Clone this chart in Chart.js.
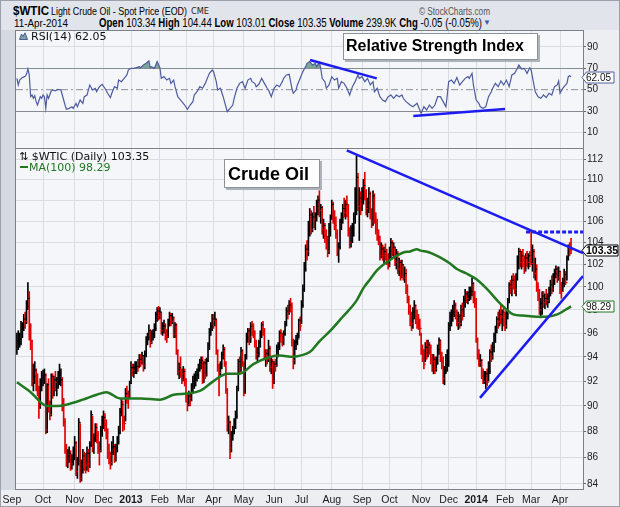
<!DOCTYPE html>
<html>
<head>
<meta charset="utf-8">
<script src="https://cdn.jsdelivr.net/npm/chart.js@4.4.1/dist/chart.umd.min.js"></script>
<style>
html, body { margin: 0; padding: 0; }
body { width: 620px; height: 507px; position: relative; overflow: hidden; background: #e1e4ea; font-family: "Liberation Sans", Arial, sans-serif; }
canvas { position: absolute; left: 0; }
#rsi { top: 30px; }
#price { top: 149px; }
.t { position: absolute; white-space: nowrap; transform-origin: 0 0; z-index: 5; }
.dv { font-family: "DejaVu Sans", sans-serif; font-size: 11px; line-height: 11px; }
.box { position: absolute; background: #fff; border: 1px solid #8e9198; box-shadow: 2px 2px 0 #aeb2b9; z-index: 5; box-sizing: border-box; }
.box span { position: absolute; font-weight: bold; color: #000; white-space: nowrap; }
#frame { position: absolute; left: 0; top: 0; width: 618px; height: 505px; border: 1px solid #9ba0a9; z-index: 9; pointer-events: none; }
</style>
</head>
<body>
<canvas id="rsi" width="620" height="119"></canvas>
<canvas id="price" width="620" height="358"></canvas>

<div class="t" style="left:13px;top:3.5px;font-size:13.5px;line-height:13.5px;font-weight:bold" data-w="36">$WTIC</div>
<div class="t" style="left:51px;top:5.5px;font-size:11.5px;line-height:11.5px" data-w="136">Light Crude Oil - Spot Price (EOD)</div>
<div class="t" style="left:191px;top:7.4px;font-family:'DejaVu Sans';font-size:9px;line-height:9px;color:#222" data-w="18">CME</div>
<div class="t" style="left:419px;top:6.5px;font-size:10px;line-height:10px;color:#555" data-w="71">&copy; StockCharts.com</div>
<div class="t" style="left:14px;top:17.5px;font-size:11.5px;line-height:11.5px" data-w="54">11-Apr-2014</div>
<div class="t" style="left:99px;top:17.1px;font-size:12px;line-height:12px" data-w="383"><b>Open</b> 103.34 <b>High</b> 104.44 <b>Low</b> 103.01 <b>Close</b> 103.35 <b>Volume</b> 239.9K <b>Chg</b> -0.05 (-0.05%)</div>
<div class="t" style="left:483px;top:19px;font-size:8px;line-height:8px;color:#3c5aa8">&#9660;</div>

<svg class="t" style="left:19px;top:32px" width="9" height="8"><polygon points="0.5,7.5 2.5,2 4,4.5 6,0.8 8.5,7.5" fill="#7ba597" stroke="#4e5c9e" stroke-width="1"/></svg>
<div class="t dv" style="left:31px;top:30.7px;color:#111">RSI(14) 62.05</div>
<div class="t dv" style="left:19px;top:150.7px;color:#111">&#8645; $WTIC (Daily) 103.35</div>
<div class="t" style="left:20px;top:166px;width:8px;height:2px;background:#217821"></div>
<div class="t dv" style="left:29px;top:161.7px;color:#217821">MA(100) 98.29</div>

<div class="box" style="left:343px;top:33px;width:195px;height:27px"><span style="left:2px;top:4px;font-size:16px;line-height:16px">Relative Strength Index</span></div>
<div class="box" style="left:224px;top:159px;width:96px;height:29px"><span style="left:3px;top:5px;font-size:18px;line-height:18px">Crude Oil</span></div>

<div id="frame"></div>

<script>
// month grid: bar index of first trading day of each month (first one is left of the plot)
const monthTicks = [-3.6, 19, 42, 63, 83, 104, 123, 143, 165, 187, 207, 229, 251, 271, 294, 314, 334, 355, 374, 395];
const monthLabels = ['Sep', 'Oct', 'Nov', 'Dec', '2013', 'Feb', 'Mar', 'Apr', 'May', 'Jun', 'Jul', 'Aug', 'Sep', 'Oct', 'Nov', 'Dec', '2014', 'Feb', 'Mar', 'Apr'];
const priceTicks = [84, 86, 88, 90, 92, 94, 96, 98, 100, 102, 104, 106, 108, 110, 112];
const rsiTicks = [10, 30, 50, 70, 90];
const rsiLevels = [30, 50, 70];

// daily bars Sep 2012 - Apr 2014
const lo = [
  94.2,94.6,94.8,95.0,95.6,96.2,96.4,96.8,98.0,95.4,94.6,91.6,91.2,91.8,91.2,90.8,89.0,89.8,91.2,
  91.6,91.8,87.8,87.9,89.5,88.9,89.2,90.6,90.8,91.2,90.8,91.4,91.7,91.6,89.6,88.4,86.3,85.3,85.2,85.6,85.0,85.1,85.4,
  85.8,84.6,84.4,85.4,84.1,84.2,84.8,85.0,84.8,85.0,84.9,85.2,86.8,86.4,86.3,87.2,87.1,86.3,85.4,86.4,87.6,
  88.2,88.0,87.4,85.9,85.5,85.1,85.4,86.2,85.6,85.7,86.4,87.0,87.8,89.2,88.0,88.1,88.8,90.2,89.8,90.6,
  91.8,92.4,92.3,92.6,92.6,92.8,93.1,93.2,93.4,92.8,93.0,94.0,95.0,95.4,94.8,95.1,95.4,95.6,96.2,97.0,97.1,
  97.2,95.9,95.8,96.0,95.4,95.2,95.6,96.6,96.6,96.8,95.6,95.6,94.2,92.5,92.2,92.3,91.8,92.0,91.6,
  90.3,89.6,90.0,90.0,90.4,91.0,91.4,91.6,92.0,92.2,92.8,93.0,91.8,91.9,92.2,92.4,93.6,94.6,95.8,96.2,
  96.4,96.6,94.2,92.8,90.8,92.4,93.0,93.8,93.2,91.0,88.0,87.8,85.9,86.4,87.3,87.8,88.2,89.0,91.2,92.6,92.8,93.2,
  90.8,91.0,93.8,95.2,95.0,95.2,95.8,95.6,94.8,93.8,93.6,94.0,94.8,95.6,95.8,93.8,93.2,93.4,93.6,92.8,92.6,91.4,
  91.8,92.8,93.2,94.0,94.6,95.2,94.9,95.0,95.8,96.6,97.2,97.6,97.8,94.9,93.0,93.4,94.6,95.0,95.6,96.2,
  96.8,98.2,99.6,101.4,102.4,102.8,104.6,104.8,105.0,105.4,105.2,106.0,106.6,106.4,105.8,104.8,104.4,104.0,103.4,102.7,103.0,104.6,
  106.2,105.8,105.2,104.4,102.8,102.2,103.4,105.2,105.8,106.4,106.2,106.4,104.6,103.5,103.6,104.0,104.6,105.8,106.6,107.0,104.2,106.6,
  107.0,107.6,108.0,106.6,106.4,106.8,106.2,105.4,105.6,105.8,104.8,104.2,103.8,102.4,102.6,102.4,102.1,102.4,102.0,101.6,
  101.8,102.6,102.8,102.6,101.9,101.6,101.2,101.0,100.6,100.8,100.6,100.4,99.4,98.6,97.6,96.6,96.2,96.4,97.2,96.8,96.4,96.3,95.8,
  94.2,93.6,93.0,93.6,93.8,94.0,94.2,93.4,92.8,92.6,92.6,92.8,93.4,94.2,93.6,93.0,91.8,91.7,92.6,92.8,
  93.2,96.2,96.6,97.0,97.4,97.2,96.6,96.3,96.4,96.6,97.1,97.4,98.2,98.6,98.5,98.8,98.9,99.2,98.6,98.2,
  95.2,93.8,93.2,93.2,92.2,91.8,91.8,91.4,91.6,92.0,92.6,93.6,93.8,94.4,95.2,96.0,96.4,96.6,96.8,96.2,96.6,
  96.2,96.4,97.2,98.6,99.4,99.2,99.8,99.4,99.2,100.6,101.6,101.8,101.6,101.8,101.2,101.4,101.8,101.6,101.8,
  102.0,101.4,100.8,100.6,99.6,98.8,97.6,97.3,97.6,98.2,98.1,98.4,98.2,98.6,99.2,99.4,99.6,100.2,100.8,100.4,100.6,
  99.4,99.0,99.6,100.0,100.2,100.6,102.4,102.8,103.0
];
const hi = [
  96.0,96.2,96.0,97.0,96.9,97.6,97.8,98.8,100.4,99.6,96.8,95.4,93.4,93.6,93.0,92.6,91.6,92.2,92.8,
  92.9,93.0,92.6,91.8,92.2,90.4,92.6,92.6,92.4,92.8,92.3,92.8,93.4,93.0,92.3,90.6,89.0,87.0,86.6,86.8,86.5,86.2,86.8,
  87.6,87.2,86.0,89.0,88.6,85.8,86.6,86.4,86.3,86.8,86.6,87.2,89.6,89.2,87.8,88.6,88.6,88.0,87.2,88.4,89.2,
  89.6,89.4,88.9,88.2,87.0,86.4,87.2,87.6,87.0,87.0,87.6,88.4,89.8,90.6,90.4,89.2,91.4,91.6,91.2,92.0,
  93.6,93.4,93.4,93.6,93.6,93.8,94.2,94.2,94.4,94.1,94.5,95.7,96.0,96.7,96.3,96.2,96.3,96.8,97.8,98.2,98.3,
  98.2,97.8,96.9,97.1,96.8,96.3,97.2,97.8,97.7,97.7,97.4,96.9,96.8,94.6,93.5,94.0,93.0,93.2,93.0,
  92.2,91.0,91.2,91.0,91.8,92.4,92.6,92.8,93.0,93.4,93.8,94.0,94.0,93.6,93.8,93.9,95.2,96.4,96.9,97.6,
  97.6,97.8,97.2,94.6,93.4,93.6,94.4,95.0,94.8,93.6,91.4,89.2,88.8,88.0,88.4,89.0,89.6,91.6,93.8,94.0,94.8,94.6,
  93.6,94.2,96.0,96.4,96.4,96.9,97.0,96.8,96.2,95.4,94.8,95.4,96.2,96.9,97.0,96.4,94.6,94.6,95.4,94.9,94.0,93.8,
  93.6,93.8,95.0,95.2,96.2,96.3,96.0,96.2,97.0,98.2,98.4,98.8,99.0,98.6,95.5,95.4,95.8,96.0,97.2,97.4,
  98.8,100.2,102.2,103.8,104.2,106.0,107.2,107.0,106.8,107.4,106.8,108.0,108.4,108.9,107.6,107.4,106.2,105.8,105.2,104.6,105.8,106.6,
  108.0,107.8,107.0,106.4,105.2,104.0,106.2,106.8,107.6,108.2,108.0,108.4,107.6,105.4,105.6,105.8,106.8,109.2,112.3,110.6,109.2,108.8,
  109.2,110.0,110.7,109.0,108.2,109.2,108.8,107.2,108.9,108.6,106.8,106.2,105.2,104.6,104.0,103.8,103.6,103.9,103.4,103.0,
  103.6,104.4,104.2,104.0,103.6,103.4,103.2,102.6,102.4,102.4,102.0,101.8,101.6,100.2,99.2,98.4,97.8,98.2,98.8,98.4,98.0,97.6,97.2,
  96.0,95.0,94.6,95.2,95.4,95.4,95.2,95.0,94.2,94.2,94.0,94.0,95.0,95.6,95.4,94.4,94.0,93.2,94.2,94.6,
  96.9,97.8,98.0,98.4,98.8,98.6,98.0,97.8,97.6,98.4,98.6,99.2,99.8,99.6,99.6,100.0,100.0,100.8,100.4,99.6,
  99.0,95.6,94.6,94.2,93.8,93.0,92.8,92.8,93.0,93.6,94.6,95.0,95.2,96.0,96.6,97.4,97.8,98.0,98.4,98.0,98.2,
  97.8,98.0,99.0,100.4,100.6,101.0,101.2,101.0,101.2,102.8,103.5,103.4,103.2,103.4,102.8,103.0,103.2,103.0,103.2,
  105.1,103.8,103.4,102.6,102.0,100.4,99.8,99.0,99.6,99.6,99.4,99.8,99.4,100.0,100.6,101.0,101.2,101.6,101.9,101.8,101.8,
  101.4,100.4,100.8,101.6,101.4,102.8,103.8,104.0,104.4
];
const cl = [
  95.3,95.4,95.5,96.4,96.5,97.2,97.0,98.3,99.0,96.6,95.3,92.0,92.4,92.9,91.9,91.4,90.0,91.9,92.2,
  92.5,92.5,88.1,91.7,89.9,89.3,92.4,91.3,92.1,91.9,91.9,92.1,92.1,92.1,90.1,88.7,86.7,85.7,86.1,86.3,85.5,85.7,86.2,
  87.1,84.9,85.7,88.7,84.4,85.1,86.1,85.6,85.4,86.3,85.5,86.9,89.3,86.8,87.4,88.3,87.7,86.7,86.5,88.1,88.9,
  89.1,88.5,87.9,86.3,85.9,85.6,86.8,86.8,85.9,86.7,87.2,87.9,89.5,90.1,88.7,88.6,91.0,90.9,90.8,91.8,
  93.1,92.9,93.1,93.2,93.2,93.1,93.8,93.6,94.1,93.3,94.2,95.5,95.6,96.2,95.2,95.9,95.9,96.4,97.6,97.9,97.5,
  97.8,96.2,96.6,96.6,95.8,95.7,97.0,97.5,97.0,97.3,95.9,96.7,94.5,92.8,93.1,92.6,92.1,92.8,92.1,
  90.7,90.1,90.8,90.4,91.6,92.0,92.1,92.5,92.5,93.0,93.5,93.7,92.1,93.5,92.5,93.7,94.8,96.3,96.6,97.2,
  97.1,97.2,94.5,93.3,92.7,93.4,94.2,94.6,93.5,91.3,88.7,88.7,86.7,87.7,88.0,88.8,89.2,91.4,93.6,93.0,94.5,93.5,
  91.0,94.0,95.6,96.2,95.6,96.6,96.4,96.0,95.2,94.2,94.3,95.2,96.0,96.7,96.2,94.3,94.3,93.8,94.7,93.1,93.6,92.0,
  93.4,93.3,94.8,94.8,96.0,95.8,95.4,95.9,96.7,97.9,97.8,98.4,98.2,95.4,93.7,95.2,95.3,95.5,97.1,96.6,
  98.4,99.8,101.6,103.4,103.2,105.6,106.6,105.2,106.4,106.2,106.6,107.8,108.0,107.0,107.3,105.2,105.6,104.6,104.4,103.2,105.4,106.2,
  107.6,106.2,105.6,104.8,103.4,103.6,105.9,106.4,107.2,106.8,107.6,107.4,105.0,104.0,104.2,105.4,106.4,108.8,110.2,107.4,108.2,107.6,
  108.8,109.4,108.6,107.2,107.8,108.6,106.6,106.0,108.4,106.4,105.2,104.6,104.0,102.8,103.4,102.8,103.2,102.6,102.4,102.0,
  103.2,104.0,103.4,103.6,102.2,103.0,101.6,102.2,101.0,102.0,100.8,101.2,99.6,98.9,97.8,97.4,96.8,97.8,98.4,97.2,96.8,96.6,96.4,
  94.6,94.4,93.4,94.8,94.2,95.0,94.8,93.8,93.6,93.8,93.0,93.4,94.6,95.4,94.0,93.6,92.2,92.8,93.4,94.0,
  96.6,97.4,97.6,97.8,98.4,97.6,96.9,97.4,96.8,98.0,97.6,98.8,99.4,99.0,99.2,99.4,99.6,100.3,98.8,98.6,
  95.5,94.0,93.5,93.7,92.4,92.0,92.4,92.6,91.9,92.8,94.4,94.0,94.8,95.8,96.2,97.2,97.0,97.6,97.4,97.8,97.6,
  96.6,97.6,98.8,100.2,100.0,100.6,100.4,99.8,100.8,102.6,103.2,102.2,102.8,102.4,101.6,102.6,102.2,102.8,102.4,
  102.1,103.2,101.2,101.6,100.0,99.2,98.0,98.6,99.2,98.6,99.0,98.8,99.2,99.8,100.2,99.8,100.6,101.2,101.6,100.8,101.4,
  99.7,99.6,100.3,101.1,100.4,102.6,103.6,103.4,103.35
];

// MA(100) (bar index, value)
const maIdx = [0, 10, 22, 29, 36, 48, 58, 65, 75, 90, 104, 114, 124, 133, 143, 153, 162, 172, 182, 191, 201, 206, 213, 220, 228, 237, 247, 252, 257, 262, 271, 281, 286, 291, 293, 300, 310, 315, 320, 327, 334, 342, 351, 361, 368, 378, 385, 393, 399, 403];
const maVal = [91.9, 91.1, 90.0, 90.0, 90.1, 90.5, 90.9, 91.1, 90.6, 90.6, 90.5, 90.9, 91.0, 91.2, 92.0, 92.6, 92.6, 93.4, 93.9, 94.1, 94.0, 94.1, 94.4, 95.3, 96.2, 97.4, 98.8, 99.9, 100.7, 101.5, 102.4, 103.1, 103.2, 103.4, 103.3, 103.1, 102.5, 102.1, 101.6, 101.2, 100.7, 99.8, 98.6, 97.6, 97.5, 97.4, 97.4, 97.6, 98.0, 98.29];

// RSI(14) (bar index, value)
const rsiIdx = [0,1,2,4,6,7,8,9,10,11,12,13,14,15,17,18,19,20,21,22,23,25,26,28,30,32,33,35,36,38,40,41,43,44,46,48,49,51,53,55,57,58,60,62,64,66,68,69,71,73,74,76,78,80,81,83,85,87,89,90,92,94,96,97,98,100,102,104,105,107,109,111,112,114,115,117,118,120,122,124,126,128,129,131,133,135,137,138,140,142,143,145,146,148,150,152,153,155,157,158,160,162,164,166,168,170,171,173,174,176,178,180,182,183,185,187,189,191,193,194,196,198,200,201,203,204,206,208,
  210,211,213,215,217,218,220,221,222,224,225,227,229,231,233,234,236,238,240,242,244,246,248,249,251,253,255,257,259,260,262,264,266,268,270,272,274,276,278,280,281,283,286,288,291,293,294,296,298,300,302,304,306,308,310,312,313,314,316,318,320,322,324,326,328,329,331,332,334,336,337,339,341,343,345,346,348,350,352,354,356,358,360,362,364,365,367,369,371,373,374,376,377,379,381,383,385,387,389,391,393,394,395,397,398,400,401,402,403];
const rsiVal = [60.6,54.4,59,61.3,62.5,64.4,69.4,63.8,43.4,45,41.9,44.4,38.8,35.6,43.4,41.9,45,43.4,32.5,45,41.9,48.8,49.7,48.8,50.3,49.7,45,35.6,31.6,32.5,34,32.5,37.2,34,40.3,37.2,43.4,45,54.4,49.7,51.3,48.1,52.8,55,51.3,46.6,42.5,46.6,52.8,51.3,59,57.5,60.6,63.8,68.4,70,70,70.6,71.6,70.6,73.1,74.7,76.9,70.6,71.6,70,76.3,70.6,60.6,62.2,59,60.6,55.9,59,52.8,43.4,41.9,38.8,35.6,31.6,35.6,38.8,45,48.1,52.8,51.3,55.9,59,65.3,68.4,66.9,57.5,49.7,51.3,43.4,34,29.4,32.5,35.6,41.9,51.3,55.9,57.5,51.3,59,60.6,57.5,55.9,52.8,55,60.6,55.9,51.3,49.7,43.4,51.3,54.4,52.8,57.5,60.6,63.8,64.4,51.3,46.6,49.7,54.4,60.6,66.9,
  71.6,74.7,76.3,73.1,74.7,71.6,75.6,70,60.6,57.5,51.3,54.4,62.2,59,60.6,51.3,57.5,55.9,51.3,45,52.8,57.5,63.8,60.6,62.2,57.5,60.6,54.4,57.5,48.1,51.3,43.4,40.3,38.8,43.4,45,41.9,45,43.4,45,41.9,38.8,35.6,34,37.2,31,27.8,34,31,35.6,32.5,35.6,43.4,43.4,38.8,34,45,57.5,59,55.9,61.3,54.4,57.5,60.6,62.2,60.6,65.3,54.4,40.3,37.2,34,32.5,34,43.4,48.1,51.3,55.9,52.8,58.1,54.4,59,52.8,63.8,65.3,70,73.1,69.4,70,65.3,70.6,68.4,54.4,48.1,43.4,41.9,45,42.5,46.6,45,52.8,54.4,58.1,46.6,51.3,52.8,55.9,62.2,63.1,62.05];

// hand-drawn trendlines (bar index, value)
const downX = [239.9, 411.7], downY = [112.86, 103.05];
const upX = [336.8, 411.7], upY = [90.64, 100.98];
const resX = [370.3, 411.7], resY = [105.0, 105.0];
const rsiDownX = [213.2, 261.7], rsiDownY = [77.8, 60.6];
const rsiUpX = [288.3, 355], rsiUpY = [25.3, 31.9];

const X_MIN = -0.65, X_MAX = 411.7;
const BLUE = '#1c1cf0', GREEN = '#217821', RSI_LINE = '#4e5c9e', RSI_FILL = '#7ba597';
const GRID = '#d9dce3';

const pts = (xs, ys) => xs.map((x, k) => ({ x: x, y: ys[k] }));
const barColor = cl.map((c, k) => (k > 0 && c < cl[k - 1]) ? '#e00000' : '#000000');

// fit header texts to measured widths
document.querySelectorAll('[data-w]').forEach(el => {
  const w = el.getBoundingClientRect().width;
  el.style.transform = 'scaleX(' + (el.dataset.w / w) + ')';
});

const panel = {
  id: 'panel',
  beforeDraw(chart, args, opts) {
    const { ctx, chartArea: a, width, height } = chart;
    ctx.save();
    ctx.fillStyle = '#eceef2';
    ctx.fillRect(0, 0, width, height);
    ctx.fillStyle = '#d5d9e0';
    ctx.fillRect(0, a.top, a.left, a.bottom - a.top);
    ctx.fillStyle = '#f5f6fa';
    ctx.fillRect(a.left, a.top, a.right - a.left, a.bottom - a.top);
    ctx.restore();
  },
  afterDraw(chart, args, opts) {
    const { ctx, chartArea: a } = chart;
    const L = Math.round(a.left), R = Math.round(a.right), T = Math.round(a.top), B = Math.round(a.bottom);
    ctx.save();
    ctx.fillStyle = '#7b8089';
    ctx.fillRect(L - 1, T, 1, B - T);
    ctx.fillRect(R, T, 1, B - T);
    ctx.fillRect(L - 1, B - 1, R - L + 2, 1);
    if (opts.top) ctx.fillRect(L - 1, T, R - L + 2, 1);
    // value tags on the right axis
    (opts.tags || []).forEach(tg => {
      const y = Math.round(chart.scales.y.getPixelForValue(tg.v)) + 0.5;
      const x0 = R - 1, x1 = R + tg.w;
      ctx.beginPath();
      ctx.moveTo(x0, y);
      ctx.lineTo(x0 + 4.5, y - 5.5);
      ctx.lineTo(x1, y - 5.5);
      ctx.lineTo(x1, y + 5.5);
      ctx.lineTo(x0 + 4.5, y + 5.5);
      ctx.closePath();
      ctx.fillStyle = '#ffffff';
      ctx.fill();
      ctx.strokeStyle = tg.color;
      ctx.lineWidth = 1;
      ctx.stroke();
      ctx.fillStyle = tg.text || '#111';
      ctx.font = (tg.bold ? 'bold 10.5px' : '10px') + ' "Liberation Sans", Arial, sans-serif';
      ctx.textBaseline = 'middle';
      ctx.textAlign = 'left';
      ctx.fillText(tg.label, R + 3, y + 0.5);
    });
    ctx.restore();
  }
};

function xAxis(labels) {
  return {
    type: 'linear', min: X_MIN, max: X_MAX, offset: false, bounds: 'data',
    afterBuildTicks: s => { s.ticks = monthTicks.map(v => ({ value: v })); },
    afterFit: s => { s.height = labels ? 17 : 0; s.paddingLeft = 0; s.paddingRight = 0; },
    grid: { color: GRID, lineWidth: 1, drawTicks: false, offset: false },
    border: { display: false },
    ticks: {
      display: labels, autoSkip: false, maxRotation: 0, padding: 4, color: '#1a1a1a',
      font: c => ({ family: '"Liberation Sans", Arial, sans-serif', size: 10.5, weight: /^\d{4}$/.test(monthLabels[c.index]) ? 'bold' : 'normal' }),
      callback: (v, i) => monthLabels[i]
    }
  };
}

function yAxis(extra) {
  return Object.assign({
    position: 'right', bounds: 'data',
    afterFit: s => { s.width = 37; s.paddingTop = 0; s.paddingBottom = 0; },
    border: { display: false },
    ticks: { padding: 1, color: '#1a1a1a', font: { family: '"Liberation Sans", Arial, sans-serif', size: 10 }, callback: v => String(v) }
  }, extra);
}

const common = {
  responsive: false, animation: false, devicePixelRatio: 1,
  layout: { autoPadding: false, padding: { left: 16, right: 0, top: 0, bottom: 0 } },
  events: []
};

new Chart(document.getElementById('rsi'), {
  type: 'line',
  data: {
    datasets: [
      { data: pts(rsiIdx, rsiVal), borderColor: RSI_LINE, borderWidth: 1.2, pointRadius: 0, tension: 0,
        fill: { target: { value: rsiLevels[2] }, above: RSI_FILL, below: 'rgba(0,0,0,0)' }, order: 3 },
      { data: pts(rsiIdx, rsiVal), borderWidth: 0, pointRadius: 0, tension: 0,
        fill: { target: { value: rsiLevels[0] }, above: 'rgba(0,0,0,0)', below: RSI_FILL }, order: 4 },
      { data: pts([X_MIN, X_MAX], [rsiLevels[1], rsiLevels[1]]), borderColor: '#8a8f98', borderWidth: 1,
        borderDash: [7, 3, 2, 3], pointRadius: 0, fill: false, order: 5 },
      { data: pts(rsiDownX, rsiDownY), borderColor: BLUE, borderWidth: 2.5, pointRadius: 0, fill: false, order: 1 },
      { data: pts(rsiUpX, rsiUpY), borderColor: BLUE, borderWidth: 2.5, pointRadius: 0, fill: false, order: 1 }
    ]
  },
  options: Object.assign({}, common, {
    plugins: { legend: { display: false }, tooltip: { enabled: false },
      panel: { top: true, tags: [{ v: rsiVal[rsiVal.length - 1], label: rsiVal[rsiVal.length - 1].toFixed(2), color: '#50609c', w: 31 }] } },
    scales: {
      x: xAxis(false),
      y: yAxis({
        type: 'linear', min: -5.6, max: 105.9,
        afterBuildTicks: s => { s.ticks = rsiTicks.map(v => ({ value: v })); },
        grid: { color: c => (c.tick && (c.tick.value === rsiLevels[0] || c.tick.value === rsiLevels[2])) ? '#858a93' : (c.tick && c.tick.value === rsiLevels[1] ? 'rgba(0,0,0,0)' : GRID),
          tickColor: '#666', tickLength: 3, drawTicks: true }
      })
    }
  }),
  plugins: [panel]
});

new Chart(document.getElementById('price'), {
  type: 'bar',
  data: {
    datasets: [
      { type: 'bar', data: hi.map((h, k) => ({ x: k, y: [lo[k], h] })), backgroundColor: barColor,
        barThickness: 1, borderWidth: 0, order: 6 },
      { type: 'scatter', data: cl.map((c, k) => ({ x: k, y: c })), pointStyle: 'dash', pointRadius: 2,
        borderColor: barColor, borderWidth: 1, order: 5 },
      { type: 'line', data: pts(maIdx, maVal), borderColor: GREEN, borderWidth: 2.5, pointRadius: 0,
        tension: 0.4, cubicInterpolationMode: 'monotone', fill: false, order: 3 },
      { type: 'line', data: pts(downX, downY), borderColor: BLUE, borderWidth: 2.5, pointRadius: 0, fill: false, order: 1 },
      { type: 'line', data: pts(upX, upY), borderColor: BLUE, borderWidth: 2.5, pointRadius: 0, fill: false, order: 1 },
      { type: 'line', data: pts(resX, resY), borderColor: BLUE, borderWidth: 3, borderDash: [4, 2], pointRadius: 0, fill: false, order: 1 }
    ]
  },
  options: Object.assign({}, common, {
    plugins: { legend: { display: false }, tooltip: { enabled: false },
      panel: { top: false, tags: [
        { v: cl[cl.length - 1], label: cl[cl.length - 1].toFixed(2), color: '#000', bold: true, w: 35, text: '#000' },
        { v: maVal[maVal.length - 1], label: maVal[maVal.length - 1].toFixed(2), color: GREEN, w: 31 }
      ] } },
    scales: {
      x: xAxis(true),
      y: yAxis({
        type: 'logarithmic', min: 83.54, max: 113.0,
        afterBuildTicks: s => { s.ticks = priceTicks.map(v => ({ value: v })); },
        grid: { color: GRID, tickColor: '#666', tickLength: 3, drawTicks: true }
      })
    }
  }),
  plugins: [panel]
});
</script>
</body>
</html>
